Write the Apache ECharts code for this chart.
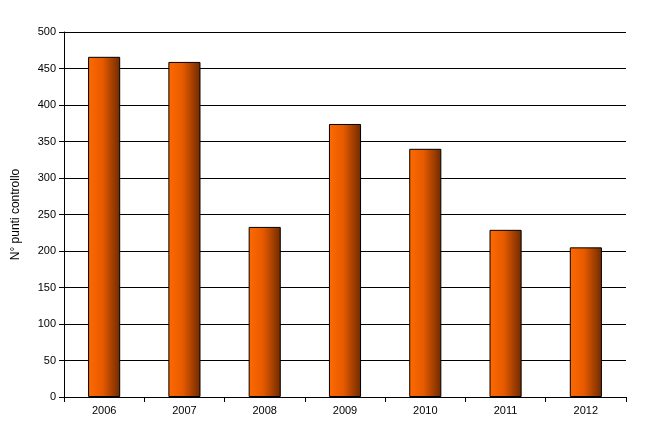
<!DOCTYPE html>
<html>
<head>
<meta charset="utf-8">
<script src="https://cdn.jsdelivr.net/npm/echarts@6/dist/echarts.min.js"></script>
<style>
html,body{margin:0;padding:0;background:#fff;}
#chart{width:646px;height:432px;}
</style>
</head>
<body>
<div id="chart"></div>
<script>
var years = ['2006','2007','2008','2009','2010','2011','2012'];
var punti = [466, 459, 233, 374, 340, 229, 205];

(function(){
	var myChart = echarts.init(document.getElementById("chart"));

	var option = {
    animation: false,
    grid: {
        left: 64,
        right: 20,
        top: 32,
        bottom: 35
    },
    xAxis: {
        type: 'category',
        data: years,
        axisLine: {lineStyle: {color: '#000'}},
        axisTick: {show: true, interval: 0, alignWithLabel: false, lineStyle: {color: '#000'}},
        axisLabel: {color: '#000', fontFamily: 'Liberation Sans', fontSize: 11}
    },
    yAxis: {
        type: 'value',
        name: 'N° punti controllo',
        nameLocation: 'middle',
        nameGap: 42,
        nameTextStyle: {color: '#000', fontFamily: 'Liberation Sans', fontSize: 12},
        min: 0,
        max: 500,
        interval: 50,
        axisLine: {show: true, lineStyle: {color: '#000'}},
        axisTick: {show: true, lineStyle: {color: '#000'}},
        axisLabel: {color: '#000', fontFamily: 'Liberation Sans', fontSize: 11},
        splitLine: {lineStyle: {color: '#000', width: 1}}
    },
    series: [
        {
            type: 'bar',
            data: punti,
            barWidth: '40%',
            itemStyle: {
                borderColor: '#000',
                borderWidth: 1,
                color: new echarts.graphic.LinearGradient(0, 0, 1, 0, [
                    {offset: 0, color: '#ff6a00'},
                    {offset: 0.45, color: '#e65a00'},
                    {offset: 1, color: '#6e2a00'}
                ])
            }
        }
    ]
};
	myChart.setOption(option);
})();
</script>
</body>
</html>
